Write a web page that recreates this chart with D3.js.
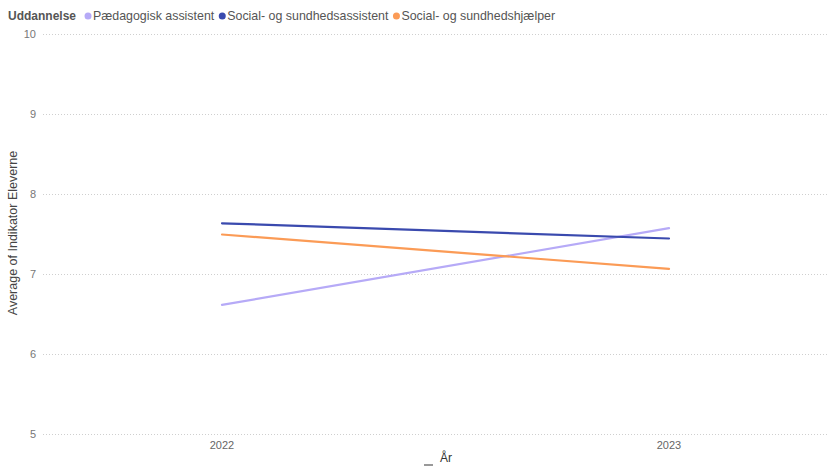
<!DOCTYPE html>
<html>
<head>
<meta charset="utf-8">
<script src="https://cdn.jsdelivr.net/npm/d3@7"></script>
<style>
  html, body { margin: 0; padding: 0; background: #fff; }
  svg { display: block; font-family: "Liberation Sans", Arial, sans-serif; }
</style>
</head>
<body>
<svg id="chart" width="829" height="467"></svg>
<script>
const years = ["2022", "2023"];
const seriesNames = ["Pædagogisk assistent", "Social- og sundhedsassistent", "Social- og sundhedshjælper"];
const paedagogisk = [6.62, 7.58];
const sosuAssistent = [7.64, 7.45];
const sosuHjaelper = [7.50, 7.07];
const yTicks = [5, 6, 7, 8, 9, 10];
const colors = ["#b6aaf7", "#3a4aae", "#fb9b56"];

const width = 829, height = 467;
const svg = d3.select("#chart");

const x = d3.scalePoint().domain(years).range([222, 669]);
const y = d3.scaleLinear().domain([5, 10]).range([434.5, 34.5]);

// gridlines
svg.append("g")
  .selectAll("line")
  .data(yTicks)
  .enter()
  .append("line")
  .attr("x1", 43)
  .attr("x2", width)
  .attr("y1", (d) => y(d))
  .attr("y2", (d) => y(d))
  .style("stroke", "#cfcfcf")
  .style("stroke-width", 1)
  .style("stroke-dasharray", "1,2");

// y tick labels
svg.append("g")
  .selectAll("text")
  .data(yTicks)
  .enter()
  .append("text")
  .attr("x", 36)
  .attr("y", (d) => y(d))
  .attr("dy", "0.35em")
  .text((d) => d)
  .style("text-anchor", "end")
  .style("font-size", "11px")
  .style("fill", "#777");

// x tick labels
svg.append("g")
  .selectAll("text")
  .data(years)
  .enter()
  .append("text")
  .attr("x", (d) => x(d))
  .attr("y", 445)
  .attr("dy", "0.35em")
  .text((d) => d)
  .style("text-anchor", "middle")
  .style("font-size", "11px")
  .style("fill", "#666");

// axis titles
svg.append("text")
  .attr("transform", "translate(17,233) rotate(-90)")
  .text("Average of Indikator Eleverne")
  .style("text-anchor", "middle")
  .style("font-size", "12.5px")
  .style("fill", "#444");

svg.append("text")
  .attr("x", 446)
  .attr("y", 462)
  .text("År")
  .style("text-anchor", "middle")
  .style("font-size", "12px")
  .style("fill", "#333");

svg.append("rect")
  .attr("x", 424)
  .attr("y", 464)
  .attr("width", 9)
  .attr("height", 2)
  .style("fill", "#999");

// lines
const series = [paedagogisk, sosuAssistent, sosuHjaelper].map((vals, i) => ({
  name: seriesNames[i],
  color: colors[i],
  values: vals.map((v, j) => ({ year: years[j], value: v }))
}));

const line = d3.line()
  .x((d) => x(d.year))
  .y((d) => y(d.value));

svg.append("g")
  .selectAll("path")
  .data(series)
  .enter()
  .append("path")
  .attr("d", (d) => line(d.values))
  .style("fill", "none")
  .style("stroke", (d) => d.color)
  .style("stroke-width", 2.2)
  .style("stroke-linecap", "round");

// legend, laid out left to right
const legend = svg.append("g");
const title = legend.append("text")
  .attr("x", 8)
  .attr("y", 20)
  .text("Uddannelse")
  .style("font-size", "12px")
  .style("font-weight", "bold")
  .style("fill", "#555");

let cursor = 8 + title.node().getComputedTextLength() + 12;
series.forEach((s) => {
  legend.append("circle")
    .attr("cx", cursor)
    .attr("cy", 16)
    .attr("r", 3.5)
    .style("fill", s.color);
  const t = legend.append("text")
    .attr("x", cursor + 5)
    .attr("y", 20)
    .text(s.name)
    .style("font-size", "12.4px")
    .style("fill", "#555");
  cursor += 5 + t.node().getComputedTextLength() + 8;
});
</script>
</body>
</html>
